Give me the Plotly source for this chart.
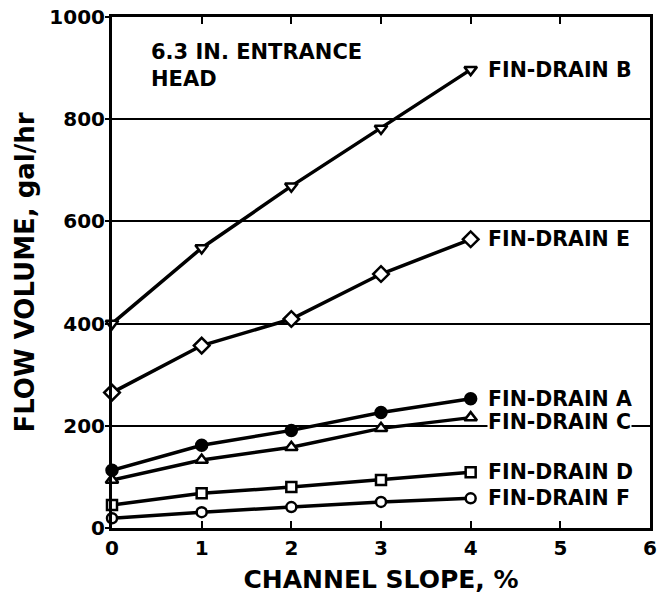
import plotly.graph_objects as go

# Channel slope (%) at which each drain was tested
slope = [0, 1, 2, 3, 4]

# Flow volume (gal/hr) for each fin-drain type
drain_b = [400, 548, 669, 782, 897]
drain_e = [265, 357, 409, 497, 565]
drain_a = [113, 162, 191, 226, 253]
drain_c = [94, 133, 158, 195, 216]
drain_d = [45, 68, 80, 94, 109]
drain_f = [19, 31, 41, 51, 58]

series_names = ["FIN-DRAIN B", "FIN-DRAIN E", "FIN-DRAIN A",
                "FIN-DRAIN C", "FIN-DRAIN D", "FIN-DRAIN F"]
series_values = [drain_b, drain_e, drain_a, drain_c, drain_d, drain_f]

x_ticks = [0, 1, 2, 3, 4, 5, 6]
y_ticks = [0, 200, 400, 600, 800, 1000]

FONT = "DejaVu Sans"
INK = "black"

styles = {
    "FIN-DRAIN B": dict(symbol="triangle-down", color="white", size=11),
    "FIN-DRAIN E": dict(symbol="diamond", color="white", size=12),
    "FIN-DRAIN A": dict(symbol="circle", color=INK, size=11),
    "FIN-DRAIN C": dict(symbol="triangle-up", color="white", size=11),
    "FIN-DRAIN D": dict(symbol="square", color="white", size=10),
    "FIN-DRAIN F": dict(symbol="circle", color="white", size=10),
}
label_shift = {"FIN-DRAIN C": -4}

fig = go.Figure()
for name, vals in zip(series_names, series_values):
    st = styles[name]
    fig.add_trace(go.Scatter(
        x=slope, y=vals, mode="lines+markers", name=name,
        line=dict(color=INK, width=3.5),
        marker=dict(symbol=st["symbol"], color=st["color"], size=st["size"],
                    line=dict(color=INK, width=2.5)),
        cliponaxis=False,
    ))
    fig.add_annotation(
        x=slope[-1], y=vals[-1], xref="x", yref="y",
        text=name, showarrow=False, xanchor="left", yanchor="middle",
        xshift=16, yshift=label_shift.get(name, 0),
        bgcolor="white", borderpad=0,
        font=dict(family=FONT, size=20.5, color=INK, weight="bold"),
    )

fig.add_annotation(
    x=0.41, y=958, xref="x", yref="y",
    text="6.3 IN. ENTRANCE<br>HEAD", showarrow=False,
    xanchor="left", yanchor="top", align="left",
    font=dict(family=FONT, size=21, color=INK, weight="bold"),
)

fig.update_xaxes(
    range=[0, 6], tickvals=x_ticks, ticks="inside", ticklen=7, tickwidth=2,
    tickcolor=INK, showline=True, linewidth=3, linecolor=INK, mirror="ticks",
    showgrid=False, zeroline=False,
    tickfont=dict(family=FONT, size=20, color=INK, weight="bold"),
    title=dict(text="CHANNEL SLOPE, %", standoff=12,
               font=dict(family=FONT, size=25, color=INK, weight="bold")),
)
fig.update_yaxes(
    range=[0, 1000], tickvals=y_ticks, tickformat="d", ticks="outside",
    ticklen=4, tickwidth=2, tickcolor=INK, showline=True, linewidth=3,
    linecolor=INK, mirror=True, showgrid=True, gridcolor=INK, gridwidth=2,
    zeroline=False, ticklabelstandoff=-4,
    tickfont=dict(family=FONT, size=20, color=INK, weight="bold"),
    title=dict(text="FLOW VOLUME, gal/hr", standoff=8,
               font=dict(family=FONT, size=26, color=INK, weight="bold")),
)

fig.update_layout(
    width=662, height=598,
    margin=dict(l=112, r=5, t=15, b=70),
    plot_bgcolor="white", paper_bgcolor="white",
    showlegend=False,
)

fig.write_html("out.html")
